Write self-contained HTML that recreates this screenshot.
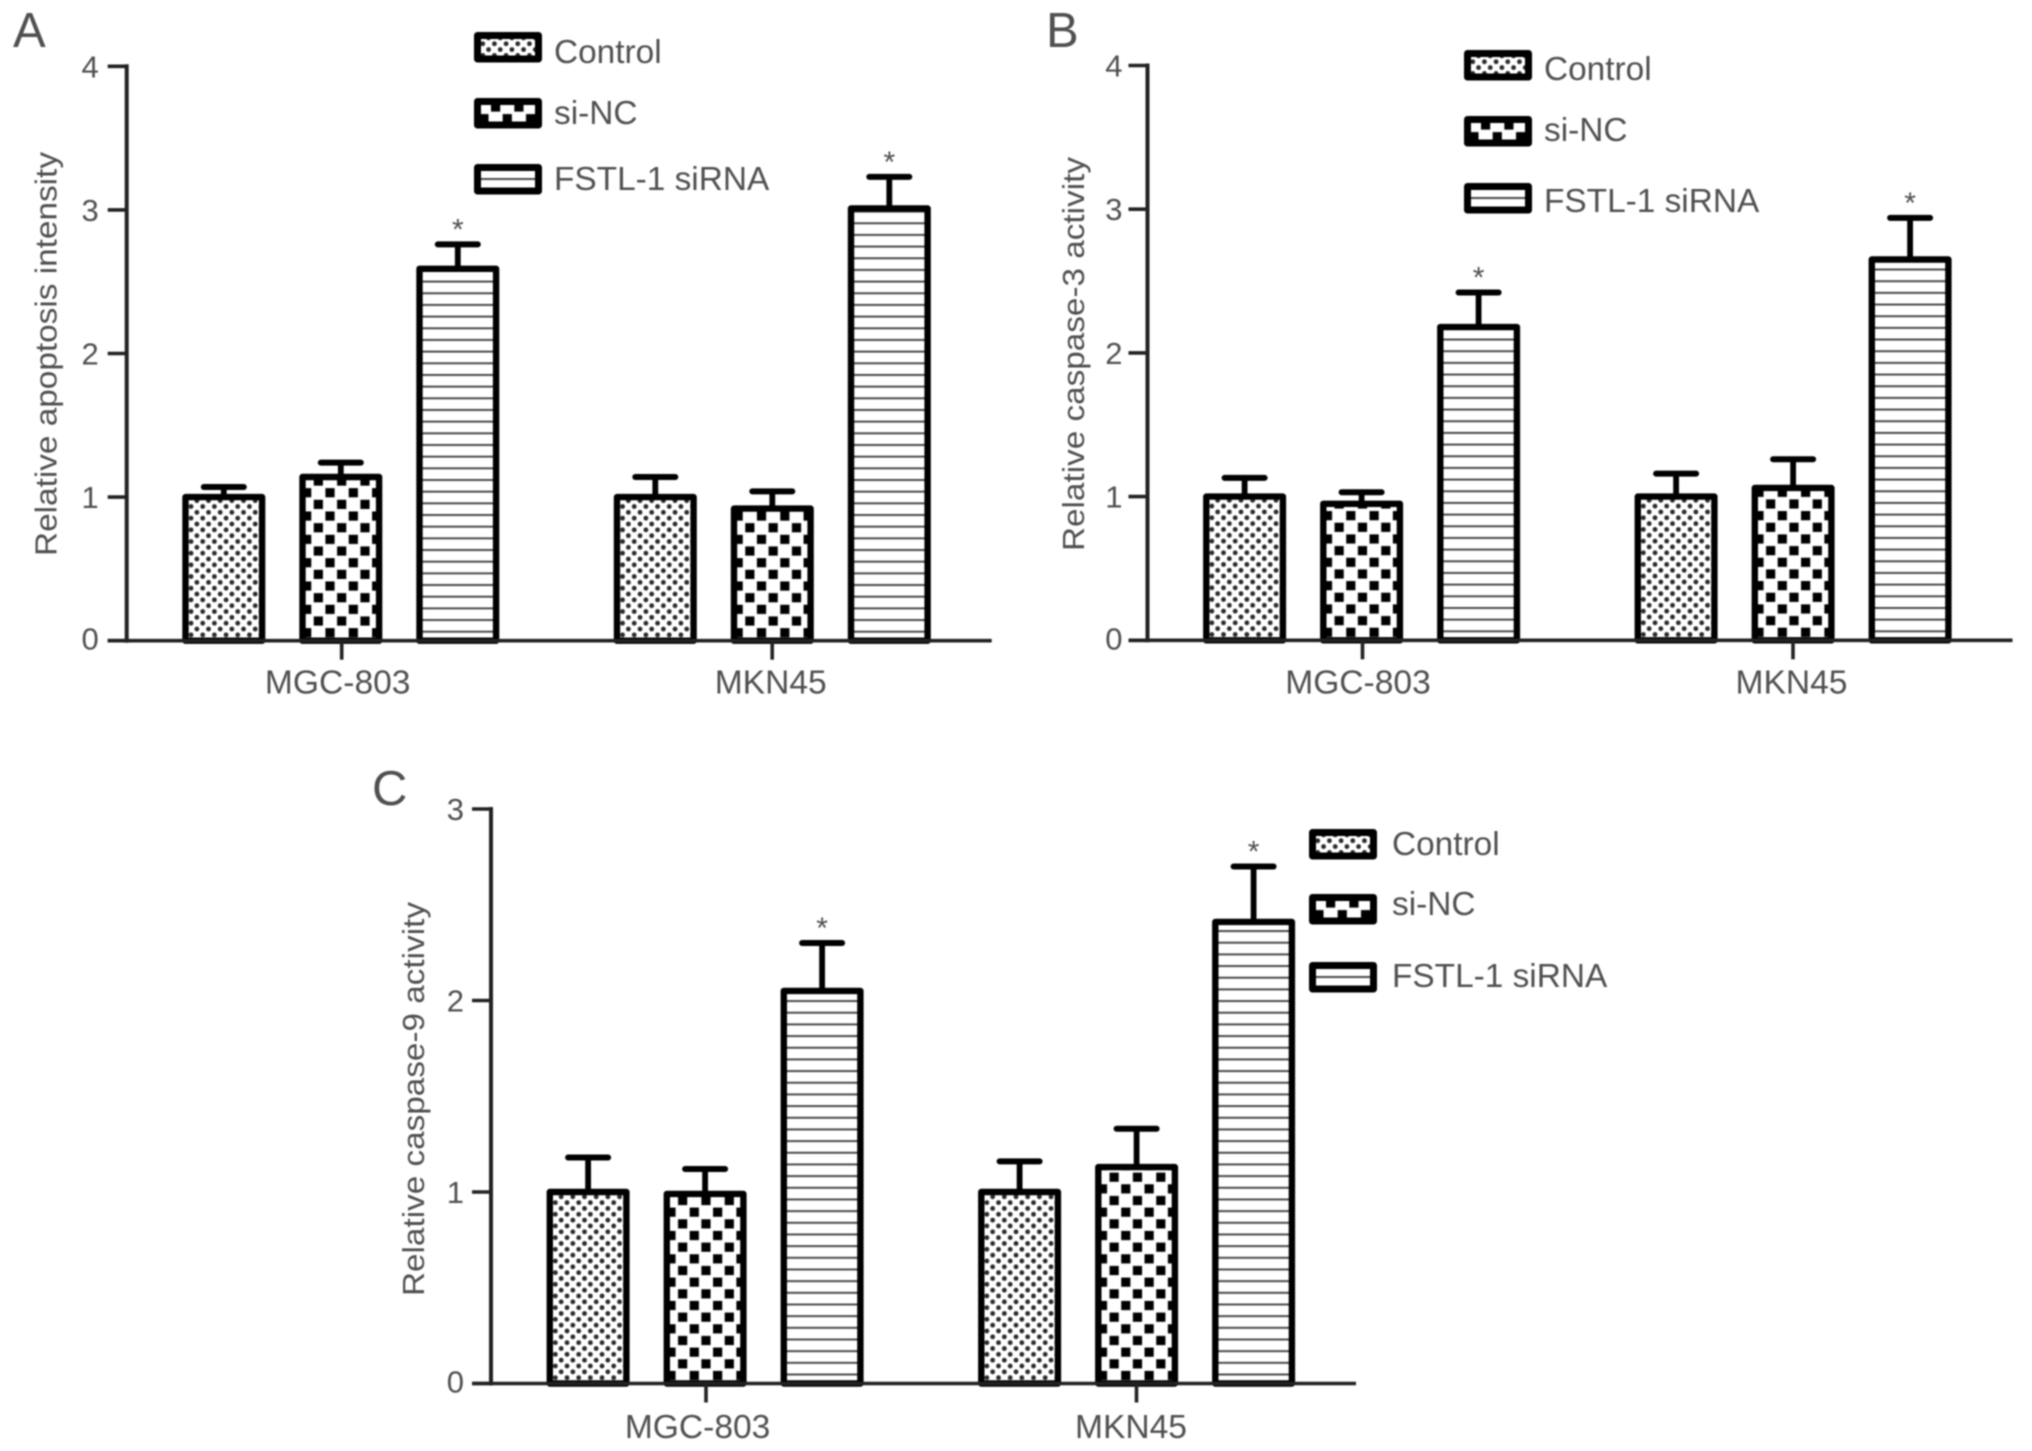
<!DOCTYPE html>
<html><head><meta charset="utf-8"><style>
html,body{margin:0;padding:0;background:#fff}
#fig{display:block;filter:blur(0.7px)}
text{font-family:"Liberation Sans",sans-serif;fill:#505050}
</style></head>
<body>
<svg id="fig" width="2032" height="1451" viewBox="0 0 2032 1451" xmlns="http://www.w3.org/2000/svg"><defs id="defs"></defs></svg>
<script>
var categories = ['MGC-803', 'MKN45'];
var seriesNames = ['Control', 'si-NC', 'FSTL-1 siRNA'];

var ticksA = [0, 1, 2, 3, 4];
var controlA = [1.0, 1.0];
var siNcA = [1.14, 0.92];
var fstlA = [2.59, 3.01];
var controlErrA = [1.07, 1.14];
var siNcErrA = [1.24, 1.04];
var fstlErrA = [2.76, 3.23];

var ticksB = [0, 1, 2, 3, 4];
var controlB = [1.0, 1.0];
var siNcB = [0.95, 1.06];
var fstlB = [2.18, 2.65];
var controlErrB = [1.13, 1.16];
var siNcErrB = [1.03, 1.26];
var fstlErrB = [2.42, 2.94];

var ticksC = [0, 1, 2, 3];
var controlC = [1.0, 1.0];
var siNcC = [0.99, 1.13];
var fstlC = [2.05, 2.41];
var controlErrC = [1.18, 1.16];
var siNcErrC = [1.12, 1.33];
var fstlErrC = [2.3, 2.7];

var svg = document.getElementById('fig');
var defs = document.getElementById('defs');
var NS = 'http://www.w3.org/2000/svg';
var patternCount = 0;

function el(tag, attrs, parent) {
  var e = document.createElementNS(NS, tag);
  for (var k in attrs) e.setAttribute(k, attrs[k]);
  (parent || svg).appendChild(e);
  return e;
}

function makePattern(kind, tx, ty) {
  var id = 'pat' + (patternCount++);
  var size = kind === 1 ? 23.33 : 11.67;
  var p = el('pattern', {id: id, patternUnits: 'userSpaceOnUse', width: size, height: size,
    patternTransform: 'translate(' + tx + ' ' + ty + ')'}, defs);
  if (kind === 0) {
    el('circle', {cx: 2.9, cy: 2.9, r: 2.4, fill: '#2a2a2a'}, p);
    el('circle', {cx: 8.75, cy: 8.75, r: 2.4, fill: '#2a2a2a'}, p);
  } else if (kind === 1) {
    el('rect', {x: 0, y: 0, width: 9.2, height: 9.2, fill: '#000'}, p);
    el('rect', {x: 11.67, y: 11.67, width: 9.2, height: 9.2, fill: '#000'}, p);
  } else {
    el('rect', {x: 0, y: 0, width: size, height: 2, fill: '#4a4a4a'}, p);
  }
  return id;
}

function drawPanel(cfg) {
  var g = el('g', {});
  
  

  function yScale(v) { return cfg.y0 - v * cfg.unit; }
  function barLeft(c, s) { return cfg.axisX + 55.6 + c * 431.5 + s * 117; }
  var BAR_W = 83, SW = 6.4;

  var letter = el('text', {x: cfg.letterX, y: cfg.letterY, 'font-size': 49}, g);
  letter.textContent = cfg.key;
  
  

  var title = el('text', {transform: 'translate(' + cfg.titleX + ' ' + cfg.titleY + ') rotate(-90)',
    'font-size': 31, textLength: cfg.titleLen, lengthAdjust: 'spacingAndGlyphs'}, g);
  title.textContent = cfg.title;
  
  

  cfg.series.forEach(function (vals, s) {
    vals.forEach(function (v, c) {
      var left = barLeft(c, s), cx = left + BAR_W / 2, top = yScale(v), errY = yScale(cfg.errs[s][c]);

      var stem = el('line', {x1: cx, x2: cx, y1: top, y2: errY, stroke: '#000', 'stroke-width': 5.8}, g);
      
      

      var cap = el('line', {x1: cx - 20, x2: cx + 20, y1: errY, y2: errY, stroke: '#000', 'stroke-width': 6, 'stroke-linecap': 'round'}, g);
      
      

      var bg = el('rect', {x: left + SW / 2, y: top, width: BAR_W - SW, height: cfg.y0 - top, fill: '#fff'}, g);
      
      

      var pid = s === 0 ? makePattern(0, left, cfg.y0 - 2.9)
              : s === 1 ? makePattern(1, left + 26.1, cfg.y0 - 12.6)
              : makePattern(2, left, cfg.y0 - 10);
      var bar = el('rect', {x: left + SW / 2, y: top, width: BAR_W - SW, height: cfg.y0 - top,
        fill: 'url(#' + pid + ')', stroke: '#000', 'stroke-width': SW, 'stroke-linejoin': 'round'}, g);
      
      

      if (s === 2) {
        var star = el('text', {x: cx, y: errY - 5, 'font-size': 30, 'text-anchor': 'middle'}, g);
        star.textContent = '*';
        
        
      }
    });
  });

  var yAxis = el('line', {x1: cfg.axisX, x2: cfg.axisX, y1: yScale(cfg.ticks[cfg.ticks.length - 1]) - 2, y2: cfg.y0 + 2, stroke: '#222', 'stroke-width': 4}, g);
  
  

  var xAxis = el('line', {x1: cfg.axisX - 19, x2: cfg.axisX + 865, y1: cfg.y0, y2: cfg.y0, stroke: '#222', 'stroke-width': 3.6}, g);
  
  

  cfg.ticks.forEach(function (t) {
    var y = yScale(t);
    var tick = el('line', {x1: cfg.axisX - 19, x2: cfg.axisX, y1: y, y2: y, stroke: '#222', 'stroke-width': 3.6}, g);
    
    

    var lab = el('text', {x: cfg.axisX - cfg.tickGap, y: y + (t === 0 ? 9 : 11), 'font-size': 31, 'text-anchor': 'end'}, g);
    lab.textContent = t;
    
    
  });

  categories.forEach(function (name, c) {
    var tx = cfg.axisX + 215 + c * 430.5;
    var tick = el('line', {x1: tx, x2: tx, y1: cfg.y0, y2: cfg.y0 + 19, stroke: '#222', 'stroke-width': 3.6}, g);
    
    

    var lab = el('text', {x: cfg.axisX + cfg.catDx[c], y: cfg.catY, 'font-size': 33.6, 'text-anchor': 'middle'}, g);
    lab.textContent = name;
    
    
  });

  seriesNames.forEach(function (name, s) {
    var top = cfg.legendTops[s], base = cfg.legendBases[s], sw = 7, h = 30.5, w = 68;
    var entry = el('g', {}, g);
    
    

    var pid = s === 0 ? makePattern(0, cfg.legendX, top + 3)
            : s === 1 ? makePattern(1, cfg.legendX + 17, top + 4.4)
            : makePattern(2, cfg.legendX, top + 14);
    el('rect', {x: cfg.legendX + sw / 2, y: top + sw / 2, width: w - sw, height: h - sw, fill: '#fff'}, entry);
    var swatch = el('rect', {x: cfg.legendX + sw / 2, y: top + sw / 2, width: w - sw, height: h - sw,
      fill: 'url(#' + pid + ')', stroke: '#000', 'stroke-width': sw, 'stroke-linejoin': 'round'}, entry);
    
    

    var lab = el('text', {x: cfg.legendX + cfg.legendTextDx, y: base, 'font-size': 33.4}, entry);
    lab.textContent = name;
    
    
  });
}

drawPanel({key: 'A', axisX: 126.7, y0: 640.7, unit: 143.6, ticks: ticksA,
  series: [controlA, siNcA, fstlA], errs: [controlErrA, siNcErrA, fstlErrA],
  title: 'Relative apoptosis intensity', titleX: 56.5, titleY: 556, titleLen: 404,
  letterX: 13, letterY: 47, tickGap: 28, catDx: [211, 644], catY: 693.5,
  legendX: 474, legendTextDx: 80, legendTops: [32, 98, 164], legendBases: [63, 124, 190]});

drawPanel({key: 'B', axisX: 1147.5, y0: 640.3, unit: 143.7, ticks: ticksB,
  series: [controlB, siNcB, fstlB], errs: [controlErrB, siNcErrB, fstlErrB],
  title: 'Relative caspase-3 activity', titleX: 1084, titleY: 551, titleLen: 394,
  letterX: 1046, letterY: 47, tickGap: 25, catDx: [210.5, 644], catY: 693.5,
  legendX: 1464, legendTextDx: 80, legendTops: [50, 116, 183], legendBases: [80, 141, 212]});

drawPanel({key: 'C', axisX: 491, y0: 1383.5, unit: 191.5, ticks: ticksC,
  series: [controlC, siNcC, fstlC], errs: [controlErrC, siNcErrC, fstlErrC],
  title: 'Relative caspase-9 activity', titleX: 424, titleY: 1296, titleLen: 394,
  letterX: 372, letterY: 805, tickGap: 27, catDx: [206.6, 640], catY: 1438,
  legendX: 1309, legendTextDx: 83, legendTops: [829, 894, 962], legendBases: [855, 915, 987]});
</script>
</body></html>
